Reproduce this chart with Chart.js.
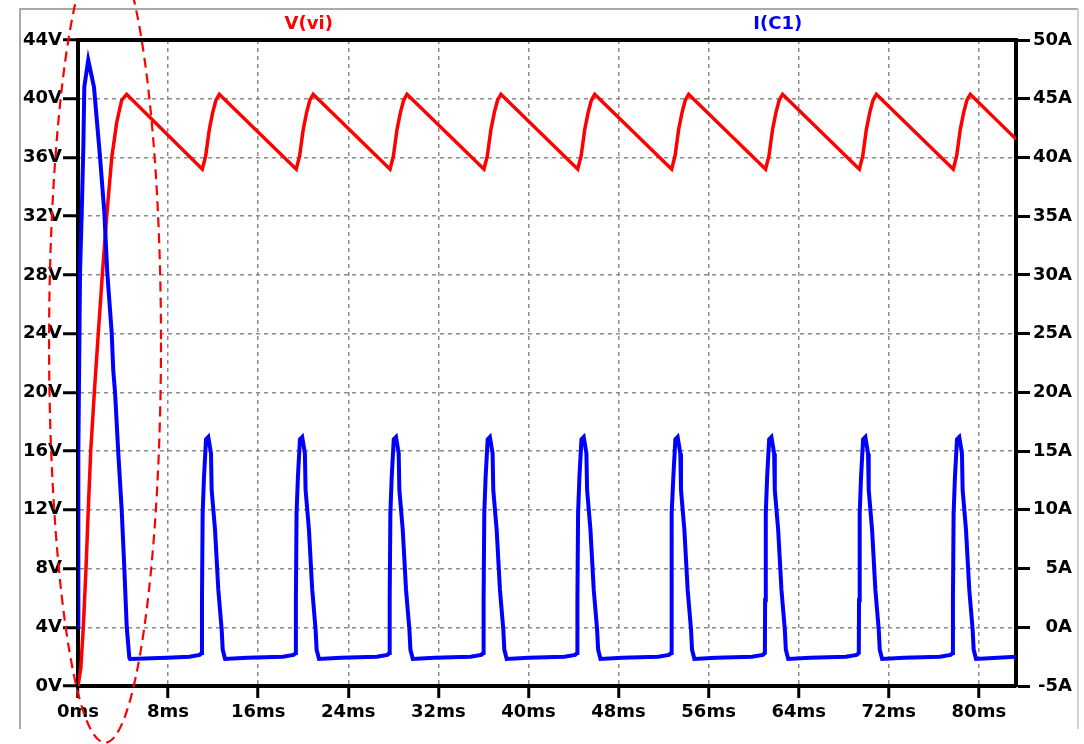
<!DOCTYPE html>
<html>
<head>
<meta charset="utf-8">
<title>V(vi) / I(C1)</title>
<script src="https://cdn.jsdelivr.net/npm/chart.js@4.4.1/dist/chart.umd.min.js"></script>
<style>
    html, body { margin: 0; padding: 0; background: #fff; }
    #wrap { width: 1084px; height: 744px; }
</style>
</head>
<body>
<div id="wrap"><canvas id="myChart" width="1084" height="744"></canvas></div>
<script>
// ---- data ----
// V(vi) : time (ms) / volts, left axis
var vTimeMs = [
    0, 0.25, 0.47, 0.71, 0.91, 1.13, 1.45, 1.80, 2.16, 2.55, 3.00, 3.44, 3.88, 4.32,
    11.04, 11.34, 11.66, 11.96, 12.25, 12.55,
    19.38, 19.68, 20.00, 20.30, 20.59, 20.89,
    27.71, 28.01, 28.33, 28.63, 28.92, 29.22,
    36.05, 36.35, 36.67, 36.97, 37.26, 37.56,
    44.38, 44.68, 45.00, 45.30, 45.59, 45.89,
    52.72, 53.02, 53.34, 53.64, 53.93, 54.23,
    61.06, 61.36, 61.68, 61.98, 62.27, 62.57,
    69.39, 69.69, 70.01, 70.31, 70.60, 70.90,
    77.73, 78.03, 78.35, 78.65, 78.94, 79.24,
    83.30
];
var vVolts = [
    0, 1.2, 4, 8, 12, 16, 20, 24, 28, 32, 36, 38.4, 39.9, 40.3,
    35.2, 36.1, 37.9, 39.05, 39.9, 40.3,
    35.2, 36.1, 37.9, 39.05, 39.9, 40.3,
    35.2, 36.1, 37.9, 39.05, 39.9, 40.3,
    35.2, 36.1, 37.9, 39.05, 39.9, 40.3,
    35.2, 36.1, 37.9, 39.05, 39.9, 40.3,
    35.2, 36.1, 37.9, 39.05, 39.9, 40.3,
    35.2, 36.1, 37.9, 39.05, 39.9, 40.3,
    35.2, 36.1, 37.9, 39.05, 39.9, 40.3,
    35.2, 36.1, 37.9, 39.05, 39.9, 40.3,
    37.25
];

// I(C1) : time (ms) / amps, right axis
var iTimeMs = [
    0, 0.03, 0.18, 0.33, 0.47, 0.56, 0.91, 1.42, 1.95, 2.34, 2.60, 2.99, 3.13, 3.29, 3.58, 3.88, 4.11, 4.33, 4.56, 4.62, 7.90, 9.90, 10.80,
    10.99, 11.01, 11.07, 11.19, 11.37, 11.57, 11.81, 11.87, 12.17, 12.46, 12.76, 12.85, 13.06, 14.99, 18.19, 19.14,
    19.33, 19.35, 19.41, 19.53, 19.71, 19.91, 20.15, 20.21, 20.51, 20.80, 21.10, 21.19, 21.40, 23.33, 26.53, 27.48,
    27.66, 27.68, 27.74, 27.86, 28.04, 28.24, 28.48, 28.54, 28.84, 29.13, 29.43, 29.52, 29.73, 31.66, 34.86, 35.81,
    36.00, 36.02, 36.08, 36.20, 36.38, 36.58, 36.82, 36.88, 37.18, 37.47, 37.77, 37.86, 38.07, 40.00, 43.20, 44.15,
    44.33, 44.35, 44.41, 44.53, 44.71, 44.91, 45.15, 45.21, 45.51, 45.80, 46.10, 46.19, 46.40, 48.33, 51.53, 52.48,
    52.67, 52.69, 52.75, 52.87, 53.05, 53.25, 53.49, 53.55, 53.85, 54.14, 54.44, 54.53, 54.74, 56.67, 59.87, 60.82,
    61.00, 61.02, 61.08, 61.20, 61.38, 61.58, 61.82, 61.88, 62.18, 62.47, 62.77, 62.86, 63.07, 65.00, 68.20, 69.15,
    69.34, 69.36, 69.42, 69.54, 69.72, 69.92, 70.16, 70.22, 70.52, 70.81, 71.11, 71.20, 71.41, 73.34, 76.54, 77.49,
    77.68, 77.70, 77.76, 77.88, 78.06, 78.26, 78.50, 78.56, 78.86, 79.15, 79.45, 79.54, 79.75, 81.68, 83.30
];
var iAmps = [
    0, 14.8, 30.2, 35.3, 40.7, 46.0, 48.3, 46.0, 40.1, 35.3, 30.2, 25.1, 21.9, 20.0, 14.8, 10.0, 5.1, 0.0, -2.6, -2.7, -2.6, -2.5, -2.35,
    -2.2, 2.3, 9.7, 12.8, 16.0, 16.2, 14.8, 11.7, 8.3, 3.2, -0.2, -1.9, -2.7, -2.6, -2.5, -2.35,
    -2.2, 2.3, 9.7, 12.8, 16.0, 16.2, 14.8, 11.7, 8.3, 3.2, -0.2, -1.9, -2.7, -2.6, -2.5, -2.35,
    -2.2, 2.3, 9.7, 12.8, 16.0, 16.2, 14.8, 11.7, 8.3, 3.2, -0.2, -1.9, -2.7, -2.6, -2.5, -2.35,
    -2.2, 2.3, 9.7, 12.8, 16.0, 16.2, 14.8, 11.7, 8.3, 3.2, -0.2, -1.9, -2.7, -2.6, -2.5, -2.35,
    -2.2, 2.3, 9.7, 12.8, 16.0, 16.2, 14.8, 11.7, 8.3, 3.2, -0.2, -1.9, -2.7, -2.6, -2.5, -2.35,
    -2.2, 2.3, 9.7, 12.8, 16.0, 16.2, 14.8, 11.7, 8.3, 3.2, -0.2, -1.9, -2.7, -2.6, -2.5, -2.35,
    -2.2, 2.3, 9.7, 12.8, 16.0, 16.2, 14.8, 11.7, 8.3, 3.2, -0.2, -1.9, -2.7, -2.6, -2.5, -2.35,
    -2.2, 2.3, 9.7, 12.8, 16.0, 16.2, 14.8, 11.7, 8.3, 3.2, -0.2, -1.9, -2.7, -2.6, -2.5, -2.35,
    -2.2, 2.3, 9.7, 12.8, 16.0, 16.2, 14.8, 11.7, 8.3, 3.2, -0.2, -1.9, -2.7, -2.6, -2.5
];

// axis ticks
var timeTicksMs = [0, 8, 16, 24, 32, 40, 48, 56, 64, 72, 80];
var voltTicks = [0, 4, 8, 12, 16, 20, 24, 28, 32, 36, 40, 44];
var ampTicks = [-5, 0, 5, 10, 15, 20, 25, 30, 35, 40, 45, 50];

// hand drawn red dashed ellipse round the inrush peak (data units)
var markCenter = { t: 2.4, v: 23.4 };
var markRadius = { t: 4.97, v: 27.26 };

function toPoints(xs, ys) {
    return xs.map(function (x, i) { return { x: x, y: ys[i] }; });
}

var labelFont = { family: 'DejaVu Sans', size: 18, weight: 'bold' };

// window frame, top border, trace names, ellipse
var decoPlugin = {
    id: 'deco',
    beforeDraw: function (chart) {
        var c = chart.ctx;
        c.save();
        c.fillStyle = '#fff';
        c.fillRect(0, 0, chart.width, chart.height);
        c.lineWidth = 2;
        c.strokeStyle = '#a9a9a9';
        c.beginPath();
        c.moveTo(20, 729); c.lineTo(20, 9); c.lineTo(1078, 9);
        c.stroke();
        c.strokeStyle = '#c9d3df';
        c.beginPath();
        c.moveTo(1078, 9); c.lineTo(1078, 729);
        c.stroke();
        c.restore();
    },
    afterDraw: function (chart) {
        var c = chart.ctx, a = chart.chartArea;
        var xs = chart.scales.x, ys = chart.scales.yV;
        c.save();
        c.strokeStyle = '#000';
        c.lineWidth = 4;
        c.beginPath();
        c.moveTo(a.left - 2, a.top);
        c.lineTo(a.right + 2, a.top);
        c.stroke();

        c.font = 'bold 18px "DejaVu Sans"';
        c.textAlign = 'center';
        c.textBaseline = 'middle';
        c.fillStyle = '#ff0000';
        c.fillText('V(vi)', a.left + a.width * 0.246, 24);
        c.fillStyle = '#0000ff';
        c.fillText('I(C1)', a.left + a.width * 0.746, 24);

        var cx = xs.getPixelForValue(markCenter.t);
        var cy = ys.getPixelForValue(markCenter.v);
        var rx = xs.getPixelForValue(markCenter.t + markRadius.t) - cx;
        var ry = cy - ys.getPixelForValue(markCenter.v + markRadius.v);
        c.strokeStyle = '#ff0000';
        c.lineWidth = 2.2;
        c.setLineDash([10, 6]);
        c.beginPath();
        c.ellipse(cx, cy, rx, ry, 0, 0, Math.PI * 2);
        c.stroke();
        c.restore();
    }
};

var ctx = document.getElementById('myChart').getContext('2d');
var chart = new Chart(ctx, {
    type: 'line',
    data: {
        datasets: [{
            label: 'I(C1)',
            data: toPoints(iTimeMs, iAmps),
            yAxisID: 'yI',
            borderColor: '#0000ff',
            borderWidth: 4,
            pointRadius: 0,
            tension: 0,
            order: 0
        }, {
            label: 'V(vi)',
            data: toPoints(vTimeMs, vVolts),
            yAxisID: 'yV',
            borderColor: '#ff0000',
            borderWidth: 3.5,
            pointRadius: 0,
            tension: 0,
            order: 1
        }]
    },
    options: {
        responsive: false,
        animation: false,
        layout: { padding: { top: 40, right: 12, left: 0, bottom: 0 } },
        plugins: { legend: { display: false }, tooltip: { enabled: false } },
        scales: {
            x: {
                type: 'linear',
                min: 0,
                max: 83.3,
                afterBuildTicks: function (s) { s.ticks = timeTicksMs.map(function (v) { return { value: v }; }); },
                afterFit: function (s) { s.height = 58; },
                ticks: {
                    font: labelFont, color: '#000', padding: 4, maxRotation: 0,
                    callback: function (v) { return v + 'ms'; }
                },
                grid: { color: '#8c8c8c', lineWidth: 1.5, tickColor: '#000', tickWidth: 3, tickLength: 12, tickBorderDash: [] },
                border: { color: '#000', width: 4, dash: [4, 4] }
            },
            yV: {
                position: 'left',
                min: 0,
                max: 44,
                afterBuildTicks: function (s) { s.ticks = voltTicks.map(function (v) { return { value: v }; }); },
                afterFit: function (s) { s.width = 78; },
                ticks: {
                    font: labelFont, color: '#000', padding: 1,
                    callback: function (v) { return v + 'V'; }
                },
                grid: { color: '#8c8c8c', lineWidth: 1.5, tickColor: '#000', tickWidth: 3, tickLength: 15, tickBorderDash: [] },
                border: { color: '#000', width: 4, dash: [4, 4] }
            },
            yI: {
                position: 'right',
                min: -5,
                max: 50,
                afterBuildTicks: function (s) { s.ticks = ampTicks.map(function (v) { return { value: v }; }); },
                afterFit: function (s) { s.width = 56; },
                ticks: {
                    font: labelFont, color: '#000', padding: 2, crossAlign: 'far',
                    callback: function (v) { return v + 'A'; }
                },
                grid: { drawOnChartArea: false, tickColor: '#000', tickWidth: 3, tickLength: 14, tickBorderDash: [] },
                border: { color: '#000', width: 4 }
            }
        }
    },
    plugins: [decoPlugin]
});
</script>
</body>
</html>
